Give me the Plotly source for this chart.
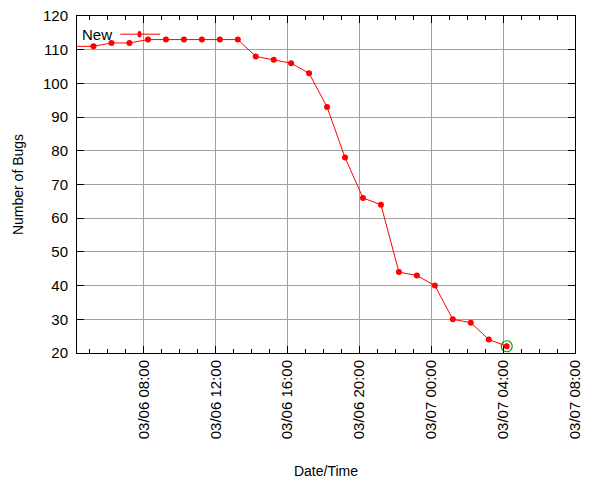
import plotly.graph_objects as go

# bug counts sampled roughly every hour
times = [
    "2024-03-06 04:05", "2024-03-06 05:12", "2024-03-06 06:12", "2024-03-06 07:12",
    "2024-03-06 08:14", "2024-03-06 09:14", "2024-03-06 10:14", "2024-03-06 11:14",
    "2024-03-06 12:14", "2024-03-06 13:14", "2024-03-06 14:14", "2024-03-06 15:14",
    "2024-03-06 16:12", "2024-03-06 17:12", "2024-03-06 18:12", "2024-03-06 19:12",
    "2024-03-06 20:12", "2024-03-06 21:12", "2024-03-06 22:12", "2024-03-06 23:12",
    "2024-03-07 00:12", "2024-03-07 01:12", "2024-03-07 02:12", "2024-03-07 03:12",
    "2024-03-07 04:12",
]
new_bugs = [111, 111, 112, 112, 113, 113, 113, 113, 113, 113, 108, 107, 106,
            103, 93, 78, 66, 64, 44, 43, 40, 30, 29, 24, 22]

x_start = "2024-03-06 04:17"
x_end = "2024-03-07 08:00"

RED = "#ff0000"
GRID = "#a0a0a0"
FONT = "Liberation Sans, Arial, sans-serif"

fig = go.Figure()

fig.add_trace(go.Scatter(
    x=times, y=new_bugs, mode="lines+markers", name="New",
    line=dict(color=RED, width=1),
    marker=dict(color=RED, size=6),
))

# latest value highlighted with a green ring
fig.add_trace(go.Scatter(
    x=[times[-1]], y=[new_bugs[-1]], mode="markers",
    marker=dict(symbol="circle-open", color="#009900", size=11, line=dict(width=1.2)),
    showlegend=False,
))

axis_common = dict(
    showline=True, linecolor="black", linewidth=1, mirror="allticks",
    ticks="inside", ticklen=7, tickcolor="black",
    showgrid=True, gridcolor=GRID, gridwidth=1,
    zeroline=False, automargin=False, ticklabeloverflow="allow",
    tickfont=dict(family=FONT, size=15, color="black"),
)

fig.update_xaxes(
    **axis_common,
    type="date", range=[x_start, x_end],
    dtick=4 * 3600 * 1000, tick0="2024-03-06 00:00",
    tickformat="%m/%d %H:%M", tickangle=-90,
    minor=dict(dtick=3600 * 1000, ticks="inside", ticklen=4, tickcolor="black", showgrid=False),
    title=dict(text="Date/Time", font=dict(family=FONT, size=14, color="black"), standoff=27),
)
fig.update_yaxes(
    **axis_common,
    range=[20, 120], dtick=10, ticklabelstandoff=5,
    title=dict(text="Number of Bugs", font=dict(family=FONT, size=14, color="black"), standoff=16),
)

# gnuplot style key: label first, then the line sample
fig.add_annotation(x=0.006, y=0.946, xref="paper", yref="paper", text="New",
                   showarrow=False, xanchor="left", yanchor="middle",
                   font=dict(family=FONT, size=15, color="black"))
fig.add_shape(type="line", xref="paper", yref="paper", x0=0.087, x1=0.167, y0=0.946, y1=0.946,
              line=dict(color=RED, width=1))
fig.add_shape(type="circle", xref="paper", yref="paper", x0=0.1215, x1=0.1295, y0=0.9365, y1=0.9555,
              fillcolor=RED, line=dict(color=RED, width=0))

fig.update_layout(
    width=600, height=480,
    margin=dict(l=69, r=33, t=8, b=135),
    paper_bgcolor="white", plot_bgcolor="white",
    showlegend=False,
    font=dict(family=FONT, size=14, color="black"),
)

fig.write_html("out.html")
